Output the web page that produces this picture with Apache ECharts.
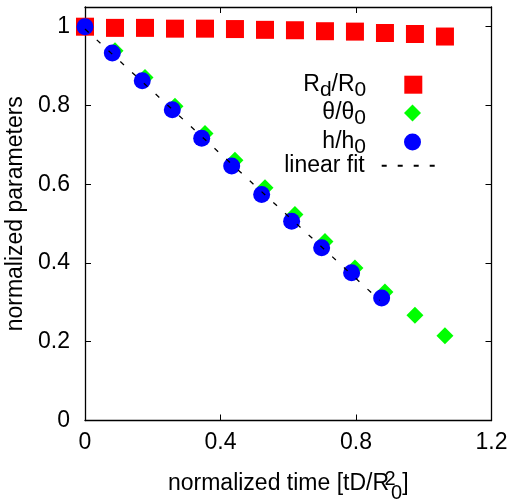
<!DOCTYPE html>
<html><head><meta charset="utf-8">
<script src="https://cdn.jsdelivr.net/npm/echarts@6/dist/echarts.min.js"></script>
<style>html,body{margin:0;padding:0;background:#fff}#c{width:513px;height:499px}</style>
</head><body><div id="c"></div>
<script>
// ---- data ----
const timeRd = [0, 0.0885, 0.1771, 0.2656, 0.3542, 0.4427, 0.5313, 0.6198, 0.7084, 0.7969, 0.8855, 0.9740, 1.0626];
const valRd = [1.000, 0.997, 0.997, 0.995, 0.995, 0.994, 0.992, 0.991, 0.9885, 0.9875, 0.984, 0.9815, 0.975];
const timeTheta = [0, 0.0885, 0.1771, 0.2656, 0.3542, 0.4427, 0.5313, 0.6198, 0.7084, 0.7969, 0.8855, 0.9740, 1.0626];
const valTheta = [1.000, 0.939, 0.871, 0.798, 0.729, 0.661, 0.591, 0.523, 0.4545, 0.387, 0.326, 0.267, 0.215];
const timeH = [0, 0.0806, 0.169, 0.2577, 0.3445, 0.433, 0.5215, 0.610, 0.6986, 0.787, 0.8757];
const valH = [1.000, 0.933, 0.863, 0.789, 0.717, 0.646, 0.574, 0.506, 0.4385, 0.375, 0.311];
const fitX = [0, 0.87];
const fitY = [0.994, 0.305];
const xTickValues = [0, 0.4, 0.8, 1.2];
const yTickValues = [0, 0.2, 0.4, 0.6, 0.8, 1];
const seriesNames = ['Rd/R0', 'theta/theta0', 'h/h0', 'linear fit'];
const legendLabels = ['{m|R}{s|d}{m|/R}{s|0}', '{m|θ/θ}{s|0}', '{m|h/h}{s|0}', '{m|linear fit}'];

const FONT = 'Liberation Sans';
const zip = (xs, ys) => xs.map((x, i) => [x, ys[i]]);
const fmt = v => String(+v.toFixed(2));

const tickStyle = { show: true, inside: true, length: 6, lineStyle: { color: '#000', width: 1 } };
const lineStyleAxis = { show: true, onZero: false, lineStyle: { color: '#000', width: 1.3 } };
const labelBase = { fontFamily: FONT, fontSize: 23, color: '#000' };

const legendRich = {
  m: { fontFamily: FONT, fontSize: 23, lineHeight: 26, color: '#000' },
  s: { fontFamily: FONT, fontSize: 21, lineHeight: 15, padding: [11, 0, 0, 0], color: '#000' }
};

function mkLegend(i, right, top, w, h, padRight, extra) {
  return Object.assign({
    data: [seriesNames[i]], orient: 'vertical', align: 'right', right: right, top: top,
    padding: 0, itemWidth: w, itemHeight: h, selectedMode: false,
    formatter: () => legendLabels[i],
    textStyle: { padding: [0, padRight, 0, 0], rich: legendRich }
  }, extra || {});
}

const chart = echarts.init(document.getElementById('c'));
chart.setOption({
  animation: false,
  textStyle: { fontFamily: FONT, color: '#000' },
  grid: { left: 85, right: 21.5, top: 7, bottom: 78.5, outerBoundsMode: 'none', containLabel: false },
  xAxis: [
    {
      type: 'value', min: 0, max: 1.2, interval: 0.4, position: 'bottom',
      axisLine: lineStyleAxis, axisTick: tickStyle, splitLine: { show: false },
      axisLabel: Object.assign({ margin: 11, formatter: v => xTickValues.some(t => Math.abs(t - v) < 1e-6) ? fmt(v) : '' }, labelBase),
      name: '{m|normalized time [tD/R}{sup|2}{sub|0}{m|]}',
      nameLocation: 'middle', nameGap: 43,
      nameTextStyle: {
        rich: {
          m: { fontFamily: FONT, fontSize: 23, lineHeight: 40, color: '#000' },
          sup: { fontFamily: FONT, fontSize: 20, lineHeight: 16, padding: [0, 0, 8, 1], width: 0, verticalAlign: 'middle', color: '#000' },
          sub: { fontFamily: FONT, fontSize: 20, lineHeight: 16, padding: [0, 0, 0, 1], verticalAlign: 'bottom', color: '#000' }
        }
      }
    },
    {
      type: 'value', min: 0, max: 1.2, interval: 0.4, position: 'top',
      axisLine: lineStyleAxis, axisTick: tickStyle, splitLine: { show: false }, axisLabel: { show: false }
    }
  ],
  yAxis: [
    {
      type: 'value', min: 0, max: 1.05, interval: 0.2, position: 'left',
      axisLine: lineStyleAxis, axisTick: tickStyle, splitLine: { show: false },
      axisLabel: Object.assign({ margin: 15, showMaxLabel: false, formatter: v => yTickValues.some(t => Math.abs(t - v) < 1e-6) ? fmt(v) : '' }, labelBase),
      name: 'normalized parameters', nameLocation: 'middle', nameRotate: 90, nameGap: 48,
      nameTextStyle: { fontFamily: FONT, fontSize: 23, color: '#000' }
    },
    {
      type: 'value', min: 0, max: 1.05, interval: 0.2, position: 'right',
      axisLine: lineStyleAxis, axisTick: tickStyle, splitLine: { show: false }, axisLabel: { show: false }
    }
  ],
  legend: [
    mkLegend(0, 90.7, 68.7, 18, 18, 33),
    mkLegend(1, 92, 97, 17, 17, 33),
    mkLegend(2, 92, 126, 17, 17, 33),
    mkLegend(3, 76.3, 154.3, 54, 14, 12, { itemStyle: { color: 'rgba(0,0,0,0)', opacity: 0, borderWidth: 0 } })
  ],
  series: [
    { name: seriesNames[0], type: 'scatter', symbol: 'rect', symbolSize: 18, itemStyle: { color: '#ff0000', opacity: 1 }, data: zip(timeRd, valRd), emphasis: { disabled: true } },
    { name: seriesNames[1], type: 'scatter', symbol: 'diamond', symbolSize: 17, itemStyle: { color: '#00ff00', opacity: 1 }, data: zip(timeTheta, valTheta), emphasis: { disabled: true } },
    { name: seriesNames[2], type: 'scatter', symbol: 'circle', symbolSize: 17, itemStyle: { color: '#0000ff', opacity: 1 }, data: zip(timeH, valH), emphasis: { disabled: true } },
    { name: seriesNames[3], type: 'line', symbol: 'none', data: zip(fitX, fitY), z: 5,
      lineStyle: { color: '#000', width: 1.3, type: [5, 11] }, itemStyle: { color: '#000' }, emphasis: { disabled: true } }
  ]
});
</script>
</body></html>
